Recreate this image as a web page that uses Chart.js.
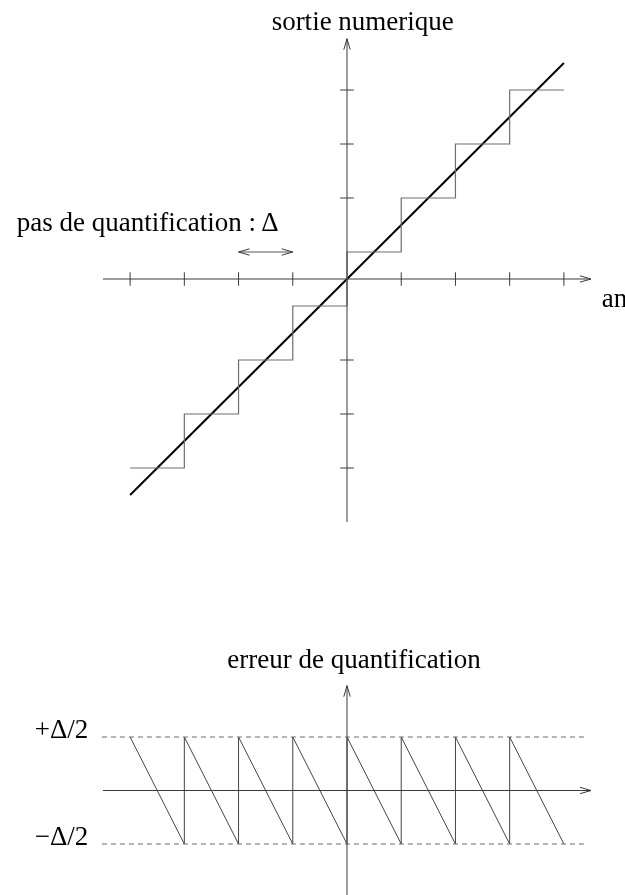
<!DOCTYPE html>
<html>
<head>
<meta charset="utf-8">
<style>
  html, body { margin: 0; padding: 0; background: #fff; width: 625px; height: 895px; overflow: hidden; }
  canvas { position: absolute; left: 0; }
  #chart-q { top: 0; }
  #chart-err { top: 600px; }
</style>
<script src="https://cdn.jsdelivr.net/npm/chart.js@4/dist/chart.umd.min.js"></script>
</head>
<body>
<canvas id="chart-q" width="625" height="580"></canvas>
<canvas id="chart-err" width="625" height="300"></canvas>
<script>
// all values in units of the quantization step Δ
const xTicks = [-4, -3, -2, -1, 1, 2, 3, 4];
const yTicks = [-3.5, -2.5, -1.5, 1.5, 2.5, 3.5];
const stairX = [-4, -3, -2, -1, 0, 1, 2, 3, 4];
const stairY = [-3.5, -2.5, -1.5, -0.5, 0.5, 1.5, 2.5, 3.5, 3.5];
const idealX = [-4, 4];
const idealY = [-4, 4];
const stepSpanX = [-2, -1];
const stepSpanY = [0.5, 0.5];

const errX = [-4, -3, -3, -2, -2, -1, -1, 0, 0, 1, 1, 2, 2, 3, 3, 4];
const errY = [0.5, -0.5, 0.5, -0.5, 0.5, -0.5, 0.5, -0.5, 0.5, -0.5, 0.5, -0.5, 0.5, -0.5, 0.5, -0.5];
const errBounds = [0.5, -0.5];
const errBoundLabels = ["+Δ/2", "−Δ/2"];

const $ = (id) => document.getElementById(id);
const pts = (xs, ys) => xs.map((x, i) => ({ x, y: ys[i] }));
const FONT = "27px 'Liberation Serif', 'Times New Roman', serif";
const AXIS = "#3a3a3a";

function seg(data, color, width, extra = {}) {
  return Object.assign({ data, borderColor: color, borderWidth: width, showLine: true, pointRadius: 0, clip: false, fill: false }, extra);
}

// open arrow head, ang = direction the arrow points to
function head(ctx, px, py, ang) {
  const L = 11, W = 3.2;
  const c = Math.cos(ang), s = Math.sin(ang);
  ctx.beginPath();
  ctx.moveTo(px - L * c - W * s, py - L * s + W * c);
  ctx.lineTo(px, py);
  ctx.lineTo(px - L * c + W * s, py - L * s - W * c);
  ctx.stroke();
}

const overlay = {
  id: "overlay",
  afterDatasetsDraw(chart, args, opts) {
    const { ctx, scales: { x, y } } = chart;
    ctx.save();
    ctx.strokeStyle = AXIS;
    ctx.lineWidth = 1;
    for (const a of opts.arrows || []) head(ctx, x.getPixelForValue(a[0]), y.getPixelForValue(a[1]), a[2]);
    ctx.fillStyle = "#000";
    ctx.font = FONT;
    ctx.textBaseline = "alphabetic";
    for (const t of opts.labels || []) {
      ctx.textAlign = t.align || "left";
      ctx.fillText(t.text, x.getPixelForValue(t.x), y.getPixelForValue(t.y));
    }
    ctx.restore();
  },
};

function baseOptions(xr, yr, padding, plug) {
  return {
    responsive: false,
    animation: false,
    events: [],
    layout: { padding },
    plugins: { legend: { display: false }, tooltip: { enabled: false }, overlay: plug },
    scales: {
      x: { type: "linear", min: xr[0], max: xr[1], display: false },
      y: { type: "linear", min: yr[0], max: yr[1], display: false },
    },
  };
}

// ---------- quantizer characteristic ----------
const qSets = [
  seg(pts([-4.5, 4.5], [0, 0]), AXIS, 1),
  seg(pts([0, 0], [-4.5, 4.45]), AXIS, 1),
  ...xTicks.map(t => seg(pts([t, t], [-0.125, 0.125]), AXIS, 1)),
  ...yTicks.map(t => seg(pts([-0.125, 0.125], [t, t]), AXIS, 1)),
  seg(pts(stairX, stairY), "#6e6e6e", 1.2, { stepped: true }),
  seg(pts(idealX, idealY), "#000", 2),
  seg(pts(stepSpanX, stepSpanY), "#555", 1),
];

new Chart($("chart-q"), {
  type: "scatter",
  data: { datasets: qSets },
  options: baseOptions([-4.5, 4.5], [-4.5, 4.5], { left: 103, right: 34, top: 36, bottom: 58 }, {
    arrows: [[4.5, 0, 0], [0, 4.45, -Math.PI / 2], [stepSpanX[0], stepSpanY[0], Math.PI], [stepSpanX[1], stepSpanY[1], 0]],
    labels: [
      { text: "sortie numerique", x: 0.29, y: 4.62, align: "center" },
      { text: "pas de quantification :\u2009Δ", x: -6.09, y: 0.88 },
      { text: "analogique", x: 4.7, y: -0.51 },
    ],
  }),
  plugins: [overlay],
});

// ---------- quantization error ----------
const eSets = [
  ...errBounds.map(b => seg(pts([-4.52, 4.4], [b, b]), "#6a6a6a", 1, { borderDash: [5, 4] })),
  seg(pts([-4.5, 4.5], [0, 0]), AXIS, 1),
  seg(pts([0, 0], [-1.05, 0.98]), AXIS, 1),
  seg(pts(errX, errY), "#444", 1),
];

new Chart($("chart-err"), {
  type: "scatter",
  data: { datasets: eSets },
  options: baseOptions([-4.5, 4.5], [-1, 1], { left: 103, right: 34, top: 83.5, bottom: 2.5 }, {
    arrows: [[4.5, 0, 0], [0, 0.98, -Math.PI / 2]],
    labels: [
      { text: "erreur de quantification", x: 0.13, y: 1.145, align: "center" },
      ...errBounds.map((b, i) => ({ text: errBoundLabels[i], x: -5.76, y: b - 0.01 })),
    ],
  }),
  plugins: [overlay],
});
</script>
</body>
</html>
